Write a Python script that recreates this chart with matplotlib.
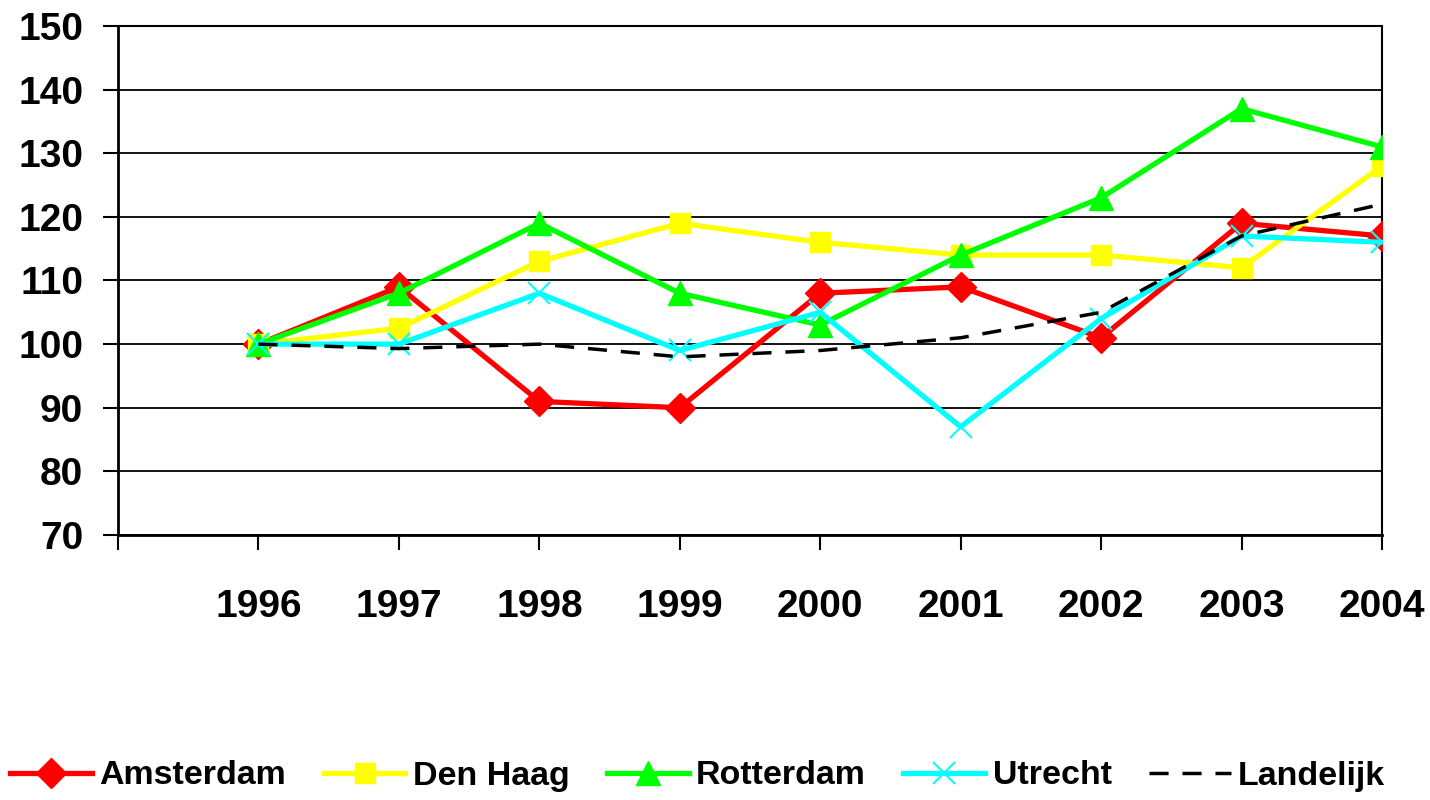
import matplotlib.pyplot as plt

plt.rcParams['font.family'] = ['Liberation Sans', 'DejaVu Sans']
plt.rcParams['font.weight'] = 'bold'

years = ['1996', '1997', '1998', '1999', '2000', '2001', '2002', '2003', '2004']
amsterdam = [100, 109, 91, 90, 108, 109, 101, 119, 117]
den_haag = [100, 102.5, 113, 119, 116, 114, 114, 112, 128]
rotterdam = [100, 108, 119, 108, 103, 114, 123, 137, 131]
utrecht = [100, 100, 108, 99, 105, 87, 104, 117, 116]
landelijk = [100, 99.3, 100, 98, 99, 101, 105, 117, 122]

x = list(range(len(years)))

fig = plt.figure(figsize=(14.3, 8), dpi=100)
ax = fig.add_axes([118 / 1430, 1 - 535 / 800, (1382 - 118) / 1430, (535 - 26) / 800])

ax.plot(x, amsterdam, color='#ff0000', lw=3.8, marker='D', ms=15, label='Amsterdam', zorder=3)
ax.plot(x, den_haag, color='#ffff00', lw=3.8, marker='s', ms=15, label='Den Haag', zorder=3)
ax.plot(x, rotterdam, color='#00ff00', lw=3.8, marker='^', ms=17, label='Rotterdam', zorder=3)
ax.plot(x, utrecht, color='#00ffff', lw=3.8, marker='x', ms=16, mew=1.5, label='Utrecht', zorder=3)
ax.plot(x, landelijk, color='black', lw=2.5, ls=(0, (5.5, 4)), label='Landelijk', zorder=4)

ax.set_xlim(-1, 8)
ax.set_ylim(70, 150)
ax.set_yticks(range(70, 151, 10))
ax.yaxis.grid(True, color='black', lw=1.3)
ax.set_axisbelow(True)

ax.set_xticks(range(-1, 9))
ax.set_xticklabels([''] + years)
ax.tick_params(axis='x', length=11, width=1.5, pad=28, labelsize=28)
ax.tick_params(axis='y', length=11, width=1.5, pad=14, labelsize=28)
for s in ax.spines.values():
    s.set_linewidth(1.5)
ax.spines['left'].set_linewidth(2)
ax.spines['bottom'].set_linewidth(2)

fig.legend(loc='center', bbox_to_anchor=(0.488, 0.03), ncol=5, frameon=False,
           fontsize=24.5, handlelength=2.4, handletextpad=0.22, columnspacing=1.1,
           borderaxespad=0)

fig.savefig('out.png', dpi=100)
